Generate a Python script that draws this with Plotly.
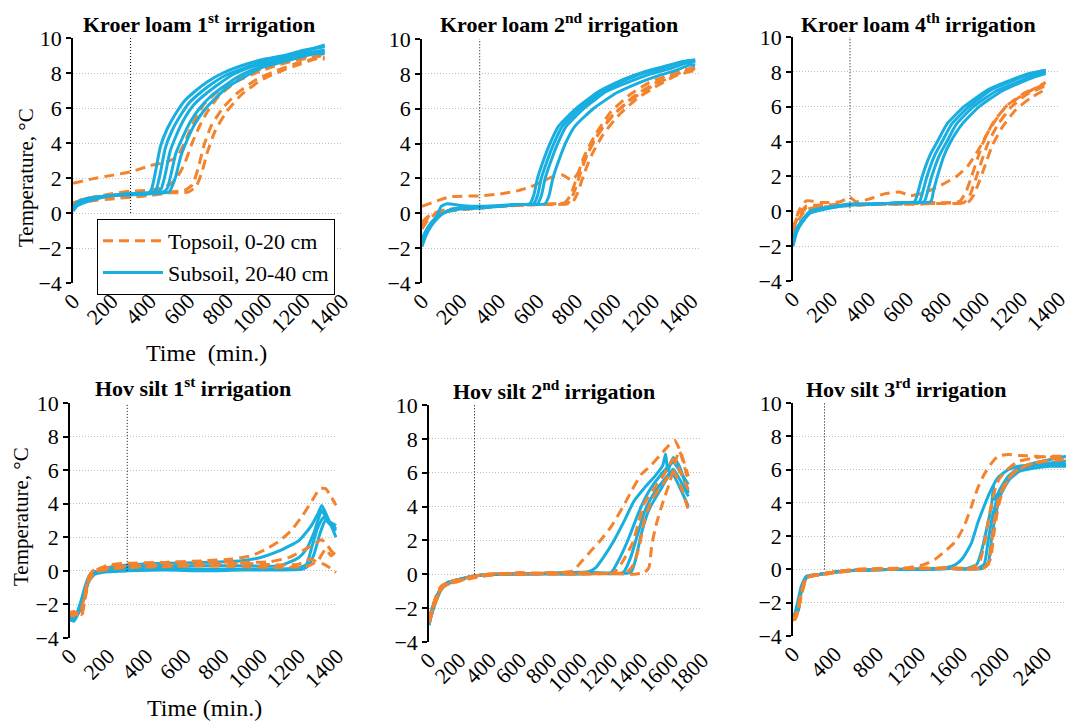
import plotly.graph_objects as go

# ---------------- data ----------------
IRRIGATION_END = 300  # min, dotted vertical marker

panel_titles = [
    "Kroer loam 1<sup>st</sup> irrigation",
    "Kroer loam 2<sup>nd</sup> irrigation",
    "Kroer loam 4<sup>th</sup> irrigation",
    "Hov silt 1<sup>st</sup> irrigation",
    "Hov silt 2<sup>nd</sup> irrigation",
    "Hov silt 3<sup>rd</sup> irrigation",
]
x_ranges = [(0, 1400), (0, 1450), (0, 1400), (0, 1400), (0, 1800), (0, 2600)]
x_dticks = [200, 200, 200, 200, 200, 400]
y_range = (-4, 10)
y_dtick = 2

# Kroer loam 1st irrigation
kroer1_topsoil = [
    ([0, 100, 200, 300, 400, 480, 540, 580, 620, 680, 760, 850, 950, 1050, 1150, 1250, 1310],
     [1.7, 1.95, 2.15, 2.35, 2.7, 2.9, 3.2, 4.0, 5.0, 6.2, 7.0, 7.6, 8.1, 8.5, 8.8, 9.0, 9.1]),
    ([0, 50, 100, 200, 300, 400, 450, 500, 540, 580, 620, 660, 700, 760, 850, 950, 1050, 1150, 1250, 1310],
     [0.5, 0.8, 0.9, 1.1, 1.25, 1.3, 1.4, 1.6, 2.0, 2.8, 4.0, 5.0, 5.8, 6.7, 7.5, 8.0, 8.4, 8.7, 8.9, 9.0]),
    ([0, 50, 100, 200, 300, 400, 500, 580, 620, 650, 680, 720, 780, 850, 950, 1050, 1150, 1250, 1310],
     [0.6, 0.7, 0.8, 0.9, 1.0, 1.1, 1.2, 1.3, 1.6, 2.5, 3.8, 5.0, 6.0, 6.8, 7.6, 8.1, 8.5, 8.8, 8.9]),
    ([0, 50, 100, 200, 300, 400, 500, 600, 640, 670, 700, 740, 800, 880, 980, 1080, 1180, 1260, 1310],
     [0.5, 0.6, 0.7, 0.8, 0.9, 1.0, 1.15, 1.2, 1.5, 2.3, 3.5, 4.7, 5.8, 6.8, 7.6, 8.1, 8.5, 8.8, 8.8]),
]
kroer1_subsoil = [
    ([0, 20, 60, 120, 200, 300, 390, 410, 430, 455, 490, 530, 580, 640, 700, 780, 900, 1000, 1100, 1200, 1310],
     [0.2, 0.5, 0.7, 0.85, 1.0, 1.05, 1.1, 1.4, 2.4, 3.8, 4.8, 5.6, 6.4, 7.0, 7.5, 8.0, 8.5, 8.8, 9.0, 9.3, 9.5]),
    ([0, 20, 60, 120, 200, 300, 415, 435, 455, 480, 515, 555, 605, 665, 725, 800, 920, 1020, 1120, 1220, 1310],
     [0.3, 0.5, 0.7, 0.9, 1.0, 1.1, 1.15, 1.4, 2.3, 3.7, 4.7, 5.5, 6.3, 6.9, 7.4, 7.9, 8.4, 8.8, 9.0, 9.3, 9.6]),
    ([0, 20, 60, 120, 200, 300, 440, 460, 480, 505, 540, 580, 630, 690, 750, 830, 940, 1040, 1140, 1240, 1310],
     [0.1, 0.4, 0.6, 0.8, 1.0, 1.1, 1.2, 1.4, 2.2, 3.5, 4.5, 5.4, 6.2, 6.8, 7.3, 7.9, 8.4, 8.7, 9.0, 9.2, 9.2]),
    ([0, 20, 60, 120, 200, 300, 470, 490, 510, 535, 570, 610, 660, 720, 780, 860, 960, 1060, 1160, 1250, 1310],
     [0.3, 0.6, 0.8, 0.9, 1.0, 1.1, 1.2, 1.4, 2.2, 3.4, 4.3, 5.2, 6.0, 6.7, 7.2, 7.8, 8.3, 8.7, 8.9, 9.2, 9.3]),
    ([0, 20, 60, 120, 200, 300, 500, 515, 535, 560, 595, 635, 685, 745, 805, 880, 980, 1080, 1180, 1260, 1310],
     [0.2, 0.5, 0.7, 0.9, 1.0, 1.05, 1.2, 1.5, 2.1, 3.2, 4.2, 5.1, 5.9, 6.6, 7.2, 7.7, 8.3, 8.6, 8.9, 9.1, 9.1]),
]

# Kroer loam 2nd irrigation
kroer2_topsoil = [
    ([0, 50, 100, 150, 300, 400, 500, 560, 620, 680, 730, 780, 810, 850, 900, 980, 1050, 1150, 1250, 1350, 1420],
     [0.4, 0.6, 0.8, 0.95, 1.0, 1.1, 1.3, 1.5, 1.8, 2.1, 2.2, 1.9, 2.3, 3.2, 4.3, 5.5, 6.2, 7.0, 7.6, 8.1, 8.3]),
    ([0, 30, 70, 120, 200, 300, 400, 500, 600, 700, 760, 790, 820, 860, 920, 1000, 1100, 1200, 1300, 1420],
     [-0.7, -0.3, 0.0, 0.15, 0.25, 0.3, 0.4, 0.5, 0.5, 0.55, 0.6, 1.2, 2.2, 3.4, 4.6, 5.7, 6.7, 7.4, 7.9, 8.3]),
    ([0, 30, 70, 120, 200, 300, 400, 500, 600, 700, 780, 810, 840, 880, 940, 1020, 1120, 1220, 1320, 1420],
     [-0.9, -0.4, -0.05, 0.1, 0.2, 0.3, 0.4, 0.45, 0.5, 0.5, 0.6, 1.2, 2.2, 3.3, 4.5, 5.6, 6.6, 7.3, 7.9, 8.2]),
    ([0, 30, 70, 120, 200, 300, 400, 500, 600, 700, 740, 770, 800, 840, 900, 980, 1080, 1180, 1300, 1420],
     [-0.5, -0.2, 0.05, 0.2, 0.3, 0.35, 0.4, 0.45, 0.5, 0.55, 0.6, 1.0, 1.9, 3.2, 4.5, 5.8, 6.8, 7.5, 8.0, 8.4]),
]
kroer2_subsoil = [
    ([0, 20, 50, 80, 100, 130, 200, 300, 400, 500, 560, 580, 600, 630, 665, 710, 800, 920, 1050, 1150, 1250, 1350, 1420],
     [-1.8, -1.2, -0.6, -0.1, 0.4, 0.55, 0.45, 0.4, 0.45, 0.5, 0.55, 1.0, 2.0, 3.0, 4.0, 5.0, 6.0, 7.0, 7.7, 8.1, 8.4, 8.7, 8.8]),
    ([0, 20, 50, 80, 110, 150, 200, 300, 400, 500, 580, 600, 620, 650, 685, 730, 820, 940, 1070, 1170, 1270, 1360, 1420],
     [-1.6, -1.1, -0.6, -0.2, 0.0, 0.2, 0.3, 0.35, 0.4, 0.5, 0.55, 1.0, 2.0, 3.0, 4.0, 5.0, 6.0, 7.0, 7.7, 8.1, 8.4, 8.7, 8.8]),
    ([0, 20, 50, 80, 110, 150, 200, 300, 400, 500, 600, 620, 640, 670, 705, 750, 840, 960, 1090, 1190, 1290, 1370, 1420],
     [-1.9, -1.3, -0.7, -0.3, 0.0, 0.15, 0.25, 0.3, 0.4, 0.5, 0.55, 1.0, 2.0, 3.0, 4.0, 5.0, 6.0, 7.0, 7.6, 8.0, 8.3, 8.6, 8.7]),
    ([0, 20, 50, 80, 110, 150, 200, 300, 400, 500, 640, 660, 680, 710, 745, 795, 890, 1010, 1130, 1230, 1320, 1390, 1420],
     [-1.5, -1.0, -0.5, -0.2, 0.0, 0.2, 0.3, 0.35, 0.4, 0.5, 0.55, 1.0, 2.0, 3.0, 4.0, 5.0, 6.0, 6.9, 7.5, 7.9, 8.2, 8.5, 8.5]),
]

# Kroer loam 4th irrigation
kroer4_topsoil = [
    ([0, 30, 70, 150, 250, 300, 330, 400, 480, 560, 620, 700, 780, 860, 920, 980, 1040, 1120, 1200, 1280, 1330],
     [-1.2, 0.0, 0.6, 0.5, 0.55, 0.8, 0.55, 0.7, 1.0, 1.1, 0.9, 1.1, 1.5, 2.0, 2.6, 3.6, 4.8, 6.0, 6.6, 7.1, 7.4]),
    ([0, 30, 70, 150, 250, 350, 450, 550, 650, 750, 850, 900, 930, 960, 990, 1030, 1080, 1150, 1230, 1330],
     [-1.0, -0.3, 0.2, 0.3, 0.35, 0.4, 0.4, 0.4, 0.45, 0.45, 0.5, 0.5, 0.9, 1.8, 2.8, 4.0, 5.0, 6.0, 6.7, 7.2]),
    ([0, 30, 70, 150, 250, 350, 450, 550, 650, 750, 850, 920, 950, 980, 1010, 1050, 1100, 1170, 1250, 1330],
     [-1.4, -0.5, 0.1, 0.25, 0.3, 0.35, 0.4, 0.4, 0.4, 0.45, 0.45, 0.5, 0.9, 1.7, 2.6, 3.8, 4.8, 5.8, 6.5, 7.0]),
    ([0, 30, 70, 150, 250, 350, 450, 550, 650, 750, 850, 880, 910, 940, 970, 1010, 1060, 1130, 1220, 1330],
     [-0.9, -0.2, 0.3, 0.35, 0.4, 0.4, 0.45, 0.45, 0.5, 0.5, 0.5, 0.6, 1.1, 2.0, 3.0, 4.2, 5.2, 6.1, 6.8, 7.3]),
]
kroer4_subsoil = [
    ([0, 20, 50, 90, 140, 200, 300, 400, 500, 600, 640, 660, 680, 720, 760, 810, 900, 1030, 1140, 1240, 1330],
     [-1.9, -1.0, -0.5, 0.0, 0.1, 0.2, 0.4, 0.4, 0.45, 0.5, 0.55, 1.2, 2.0, 3.2, 4.0, 5.0, 6.0, 7.0, 7.5, 7.9, 8.1]),
    ([0, 20, 50, 90, 140, 200, 300, 400, 500, 600, 665, 685, 705, 745, 785, 835, 925, 1050, 1160, 1250, 1330],
     [-1.8, -1.1, -0.6, -0.1, 0.1, 0.25, 0.4, 0.4, 0.45, 0.5, 0.55, 1.2, 2.0, 3.2, 4.0, 5.0, 6.0, 7.0, 7.5, 7.9, 8.1]),
    ([0, 20, 50, 90, 140, 200, 300, 400, 500, 600, 690, 710, 730, 770, 810, 860, 950, 1070, 1180, 1260, 1330],
     [-2.0, -1.2, -0.6, -0.1, 0.05, 0.2, 0.35, 0.4, 0.45, 0.5, 0.55, 1.2, 2.0, 3.2, 4.0, 5.0, 6.0, 6.9, 7.4, 7.8, 8.0]),
    ([0, 20, 50, 90, 140, 200, 300, 400, 500, 600, 725, 740, 760, 795, 830, 890, 980, 1100, 1200, 1270, 1330],
     [-1.7, -1.0, -0.5, 0.0, 0.15, 0.25, 0.4, 0.4, 0.45, 0.5, 0.55, 1.2, 2.0, 3.2, 4.0, 5.0, 6.0, 6.9, 7.4, 7.7, 7.9]),
]

# Hov silt 1st irrigation
hov1_topsoil = [
    ([0, 20, 40, 60, 80, 100, 130, 200, 300, 500, 700, 850, 950, 1030, 1100, 1160, 1220, 1270, 1310, 1340, 1370, 1395],
     [-2.5, -2.7, -2.4, -2.6, -1.5, -0.5, -0.1, 0.3, 0.4, 0.5, 0.6, 0.7, 0.9, 1.3, 1.8, 2.4, 3.3, 4.2, 4.9, 4.9, 4.4, 3.9]),
    ([0, 20, 40, 60, 80, 100, 130, 200, 300, 500, 700, 900, 1050, 1150, 1220, 1280, 1320, 1350, 1395],
     [-2.6, -2.4, -2.7, -2.5, -1.4, -0.4, 0.0, 0.35, 0.45, 0.5, 0.55, 0.5, 0.55, 0.8, 1.2, 1.6, 1.85, 1.5, 0.8]),
    ([0, 20, 40, 60, 80, 100, 130, 200, 300, 500, 700, 900, 1100, 1200, 1260, 1300, 1330, 1360, 1395],
     [-2.7, -2.5, -2.6, -2.3, -1.2, -0.3, 0.1, 0.2, 0.3, 0.35, 0.4, 0.45, 0.35, 0.4, 0.7, 0.5, 0.4, 0.2, -0.1]),
    ([0, 20, 40, 60, 80, 100, 130, 200, 300, 500, 700, 900, 1100, 1250, 1300, 1340, 1370, 1395],
     [-2.4, -2.6, -2.5, -2.7, -1.6, -0.6, -0.1, 0.1, 0.2, 0.25, 0.3, 0.25, 0.2, 0.3, 0.6, 1.3, 0.9, 1.2]),
]
hov1_subsoil = [
    ([0, 20, 40, 60, 80, 100, 130, 200, 300, 500, 700, 900, 1000, 1100, 1200, 1260, 1300, 1320, 1350, 1395],
     [-2.9, -3.0, -2.6, -2.0, -1.2, -0.5, -0.1, 0.2, 0.35, 0.45, 0.5, 0.6, 0.8, 1.2, 1.8, 2.6, 3.4, 3.9, 3.2, 2.0]),
    ([0, 20, 40, 60, 80, 100, 130, 200, 300, 500, 700, 900, 1100, 1200, 1240, 1280, 1320, 1350, 1395],
     [-2.8, -2.9, -2.5, -1.8, -1.0, -0.4, -0.1, 0.15, 0.25, 0.3, 0.3, 0.3, 0.3, 0.8, 1.3, 2.3, 3.6, 3.0, 2.5]),
    ([0, 20, 40, 60, 80, 100, 130, 200, 300, 500, 700, 900, 1100, 1200, 1240, 1270, 1300, 1330, 1360, 1395],
     [-3.0, -2.8, -2.4, -1.7, -0.9, -0.3, -0.05, 0.05, 0.1, 0.15, 0.1, 0.1, 0.1, 0.2, 0.4, 1.5, 2.6, 3.2, 2.8, 2.4]),
    ([0, 20, 40, 60, 80, 100, 130, 200, 300, 500, 700, 900, 1100, 1220, 1250, 1280, 1310, 1340, 1395],
     [-2.7, -2.9, -2.6, -2.1, -1.3, -0.6, -0.2, -0.05, 0.0, 0.05, 0.0, 0.05, 0.05, 0.1, 0.3, 1.0, 2.2, 3.0, 2.7]),
]

# Hov silt 2nd irrigation
hov2_topsoil = [
    ([0, 20, 50, 80, 120, 200, 300, 450, 600, 800, 950, 1000, 1060, 1130, 1200, 1280, 1340, 1400, 1460, 1520, 1580, 1620, 1660, 1710],
     [-2.8, -2.3, -1.4, -0.8, -0.6, -0.4, -0.2, 0.0, 0.1, 0.05, 0.2, 0.7, 1.3, 2.0, 2.8, 4.0, 5.0, 5.9, 6.4, 7.0, 7.6, 7.9, 7.2, 5.8]),
    ([0, 20, 50, 80, 120, 200, 300, 450, 600, 800, 1000, 1220, 1280, 1340, 1380, 1420, 1480, 1550, 1610, 1660, 1710],
     [-2.9, -2.1, -1.3, -0.9, -0.5, -0.3, -0.1, 0.05, 0.0, 0.1, 0.05, 0.1, 0.8, 1.8, 3.0, 4.2, 5.0, 5.9, 6.8, 6.0, 5.0]),
    ([0, 20, 50, 80, 120, 200, 300, 450, 600, 800, 1000, 1300, 1350, 1390, 1420, 1470, 1540, 1610, 1660, 1710],
     [-2.7, -2.0, -1.2, -0.7, -0.5, -0.35, -0.15, 0.0, 0.05, 0.0, 0.1, 0.1, 0.6, 1.8, 3.2, 4.4, 5.3, 6.1, 5.2, 3.8]),
    ([0, 20, 50, 80, 120, 200, 300, 450, 600, 800, 1000, 1200, 1350, 1420, 1450, 1470, 1500, 1540, 1590, 1650, 1680, 1710],
     [-2.6, -2.2, -1.5, -0.8, -0.6, -0.4, -0.1, 0.05, 0.0, 0.05, 0.0, 0.05, 0.0, 0.1, 0.4, 1.8, 3.0, 4.2, 5.5, 7.3, 6.5, 5.5]),
]
hov2_subsoil = [
    ([0, 20, 50, 80, 120, 200, 300, 450, 700, 900, 1050, 1100, 1150, 1220, 1290, 1350, 1420, 1490, 1540, 1560, 1575, 1610, 1650, 1710],
     [-3.0, -2.2, -1.5, -0.9, -0.5, -0.3, -0.1, 0.0, 0.05, 0.1, 0.15, 0.4, 1.0, 2.0, 3.2, 4.3, 5.1, 5.8, 6.4, 7.1, 6.1, 6.9, 6.4, 4.8]),
    ([0, 20, 50, 80, 120, 200, 300, 450, 700, 900, 1100, 1200, 1260, 1320, 1380, 1450, 1530, 1610, 1660, 1710],
     [-2.9, -2.1, -1.4, -0.8, -0.5, -0.3, -0.1, 0.0, 0.05, 0.05, 0.1, 0.1, 1.0, 2.2, 3.6, 4.9, 5.9, 6.6, 6.0, 5.3]),
    ([0, 20, 50, 80, 120, 200, 300, 450, 700, 900, 1100, 1280, 1330, 1380, 1430, 1500, 1570, 1610, 1660, 1710],
     [-2.8, -2.0, -1.3, -0.8, -0.5, -0.3, -0.1, 0.0, 0.0, 0.05, 0.05, 0.1, 1.0, 2.5, 3.9, 5.0, 5.8, 6.2, 5.5, 4.6]),
    ([0, 20, 50, 80, 120, 200, 300, 450, 700, 900, 1100, 1330, 1360, 1400, 1450, 1520, 1600, 1650, 1710],
     [-3.0, -2.3, -1.5, -0.9, -0.6, -0.3, -0.1, 0.0, 0.05, 0.0, 0.05, 0.1, 0.8, 2.4, 3.8, 4.9, 6.0, 5.2, 4.0]),
]

# Hov silt 3rd irrigation
hov3_topsoil = [
    ([0, 20, 50, 80, 130, 250, 400, 600, 900, 1100, 1250, 1350, 1450, 1550, 1630, 1700, 1760, 1820, 1880, 1950, 2050, 2150, 2300, 2450, 2600],
     [-2.9, -3.0, -2.3, -1.5, -0.5, -0.35, -0.2, -0.05, 0.05, 0.1, 0.3, 0.6, 1.1, 1.7, 2.6, 3.8, 4.9, 5.7, 6.3, 6.8, 6.9, 6.85, 6.8, 6.75, 6.7]),
    ([0, 20, 50, 80, 130, 250, 400, 600, 900, 1200, 1500, 1700, 1780, 1830, 1870, 1910, 1960, 2040, 2150, 2300, 2450, 2600],
     [-3.1, -2.8, -2.2, -1.3, -0.45, -0.3, -0.15, 0.0, 0.05, 0.05, 0.05, 0.05, 0.5, 1.8, 3.3, 4.5, 5.4, 6.0, 6.5, 6.7, 6.8, 6.8]),
    ([0, 20, 50, 80, 130, 250, 400, 600, 900, 1200, 1500, 1800, 1860, 1890, 1920, 1960, 2030, 2120, 2250, 2450, 2600],
     [-2.8, -3.0, -2.5, -1.6, -0.5, -0.3, -0.2, -0.05, 0.0, 0.1, 0.05, 0.05, 0.3, 1.5, 3.0, 4.3, 5.3, 5.9, 6.3, 6.6, 6.9]),
    ([0, 20, 50, 80, 130, 250, 400, 600, 900, 1200, 1500, 1820, 1880, 1910, 1950, 2000, 2080, 2200, 2400, 2600],
     [-3.0, -2.9, -2.4, -1.4, -0.5, -0.3, -0.15, 0.0, 0.05, 0.05, 0.1, 0.1, 0.6, 2.0, 3.6, 4.8, 5.7, 6.2, 6.5, 6.6]),
]
hov3_subsoil = [
    ([0, 20, 50, 80, 130, 250, 400, 600, 900, 1200, 1450, 1550, 1620, 1700, 1760, 1820, 1880, 1950, 2050, 2150, 2300, 2450, 2600],
     [-3.0, -2.7, -2.4, -1.2, -0.45, -0.3, -0.15, -0.05, 0.0, 0.02, 0.1, 0.3, 0.7, 1.6, 2.8, 3.8, 4.7, 5.5, 6.0, 6.2, 6.3, 6.4, 6.5]),
    ([0, 20, 50, 80, 130, 250, 400, 600, 900, 1200, 1500, 1650, 1750, 1800, 1850, 1890, 1910, 1920, 1970, 2050, 2150, 2300, 2450, 2600],
     [-2.9, -2.6, -1.8, -1.0, -0.4, -0.3, -0.15, -0.05, 0.0, 0.0, 0.05, 0.05, 0.3, 1.2, 2.6, 3.8, 5.0, 4.2, 4.8, 5.6, 6.1, 6.4, 6.6, 6.8]),
    ([0, 20, 50, 80, 130, 250, 400, 600, 900, 1200, 1500, 1750, 1820, 1860, 1900, 1950, 2020, 2120, 2250, 2400, 2600],
     [-2.8, -2.9, -2.3, -1.1, -0.45, -0.3, -0.15, -0.05, 0.0, 0.02, 0.05, 0.05, 0.3, 1.8, 3.2, 4.3, 5.2, 5.9, 6.2, 6.3, 6.3]),
    ([0, 20, 50, 80, 130, 250, 400, 600, 900, 1200, 1500, 1800, 1860, 1890, 1930, 1980, 2060, 2160, 2300, 2450, 2600],
     [-3.0, -2.8, -2.5, -1.3, -0.5, -0.3, -0.15, -0.05, 0.0, 0.0, 0.05, 0.05, 0.4, 1.8, 3.3, 4.5, 5.4, 5.9, 6.1, 6.2, 6.2]),
]

topsoil_sets = [kroer1_topsoil, kroer2_topsoil, kroer4_topsoil, hov1_topsoil, hov2_topsoil, hov3_topsoil]
subsoil_sets = [kroer1_subsoil, kroer2_subsoil, kroer4_subsoil, hov1_subsoil, hov2_subsoil, hov3_subsoil]

# ---------------- styling / layout ----------------
W, H = 1067, 721
FONT = "Liberation Serif"
ORANGE = "#F4832E"
BLUE = "#19AEE0"
TICK_SIZE = 22
TITLE_SIZE = 22

# plot-area pixel boxes: (left, right, top[y=10], bottom[y=-4])
boxes = [
    (73, 342, 38, 283),
    (422, 701, 39, 283),
    (793, 1059, 37, 281),
    (70, 337, 403, 638),
    (429, 702, 405, 642),
    (793, 1066, 403, 636),
]
title_pos = [(199, 23), (559, 23), (918, 23), (193, 387), (554, 390), (906, 388)]

fig = go.Figure()

for i in range(6):
    n = i + 1
    xa = "x" if n == 1 else f"x{n}"
    ya = "y" if n == 1 else f"y{n}"
    order = [("top", topsoil_sets[i]), ("sub", subsoil_sets[i])]
    if i >= 3:
        order = [("sub", subsoil_sets[i]), ("top", topsoil_sets[i])]
    for kind, curves in order:
        for k, (t, T) in enumerate(curves):
            is_top = kind == "top"
            fig.add_trace(go.Scatter(
                x=t, y=T, xaxis=xa, yaxis=ya, mode="lines",
                line=dict(color=ORANGE if is_top else BLUE, width=3,
                          dash="10px,6px" if is_top else "solid",
                          shape="spline", smoothing=0.5),
                name="Topsoil, 0-20 cm" if is_top else "Subsoil, 20-40 cm",
                legendgroup=kind,
                showlegend=(i == 0 and k == 0),
                legendrank=1 if is_top else 2,
                hoverinfo="skip",
            ))

layout = dict(
    width=W, height=H,
    margin=dict(l=0, r=0, t=0, b=0, pad=0, autoexpand=False),
    paper_bgcolor="white", plot_bgcolor="white",
    font=dict(family=FONT, size=20, color="black"),
    showlegend=True,
    legend=dict(
        x=97 / W, y=1 - 219 / H, xanchor="left", yanchor="top",
        bordercolor="black", borderwidth=1, bgcolor="white",
        font=dict(family=FONT, size=22, color="black"),
        tracegroupgap=0, traceorder="normal", itemwidth=60,
    ),
)

annotations = []
shapes = []
for i in range(6):
    n = i + 1
    L, R, Tp, Bt = boxes[i]
    xd = [L / W, R / W]
    yd = [1 - Bt / H, 1 - Tp / H]
    zero_pos = yd[0] + (0 - y_range[0]) / (y_range[1] - y_range[0]) * (yd[1] - yd[0])
    xkey = "xaxis" if n == 1 else f"xaxis{n}"
    ykey = "yaxis" if n == 1 else f"yaxis{n}"
    ya = "y" if n == 1 else f"y{n}"
    xa = "x" if n == 1 else f"x{n}"
    layout[xkey] = dict(
        domain=xd, range=list(x_ranges[i]), dtick=x_dticks[i], tick0=0,
        anchor=ya, showline=False, ticks="", showgrid=False, zeroline=False,
        tickangle=-45, tickfont=dict(family=FONT, size=TICK_SIZE, color="black"),
        ticklabeloverflow="allow", automargin=False, fixedrange=True,
    )
    layout[ykey] = dict(
        domain=yd, range=list(y_range), dtick=y_dtick, tick0=0,
        anchor=xa, showline=True, linecolor="black", linewidth=1.5,
        ticks="outside", ticklen=5, tickcolor="black", tickwidth=1.5,
        showgrid=True, gridcolor="#BDBDBD", griddash="1px,2px", gridwidth=1,
        zeroline=False, tickfont=dict(family=FONT, size=TICK_SIZE, color="black"),
        ticklabelstandoff=0, ticklabeloverflow="allow", automargin=False, fixedrange=True,
    )
    # axis line at T = 0 with downward tick marks
    ov = f"xaxis{n + 6}"
    layout[ov] = dict(
        overlaying=xa, range=list(x_ranges[i]), dtick=x_dticks[i], tick0=0,
        anchor="free", position=zero_pos, side="bottom",
        showline=True, linecolor="black", linewidth=1.5,
        ticks="outside", ticklen=6, tickcolor="black", tickwidth=1.5,
        showticklabels=False, showgrid=False, zeroline=False,
        automargin=False, fixedrange=True,
    )
    # dotted marker line
    shapes.append(dict(type="line", xref=xa, yref=ya,
                       x0=IRRIGATION_END, x1=IRRIGATION_END, y0=0, y1=y_range[1],
                       line=dict(color="black", width=1, dash="1px,2px"), layer="above"))
    tx, ty = title_pos[i]
    annotations.append(dict(text=f"<b>{panel_titles[i]}</b>", x=tx / W, y=1 - ty / H,
                            xref="paper", yref="paper", showarrow=False,
                            xanchor="center", yanchor="middle",
                            font=dict(family=FONT, size=TITLE_SIZE, color="black")))

annotations += [
    dict(text="Temperature, °C", x=26 / W, y=1 - 178 / H, xref="paper", yref="paper",
         showarrow=False, textangle=-90, xanchor="center", yanchor="middle",
         font=dict(family=FONT, size=21, color="black")),
    dict(text="Temperature, °C", x=21 / W, y=1 - 517 / H, xref="paper", yref="paper",
         showarrow=False, textangle=-90, xanchor="center", yanchor="middle",
         font=dict(family=FONT, size=21, color="black")),
    dict(text="Time  (min.)", x=206 / W, y=1 - 353 / H, xref="paper", yref="paper",
         showarrow=False, xanchor="center", yanchor="middle",
         font=dict(family=FONT, size=24, color="black")),
    dict(text="Time (min.)", x=204 / W, y=1 - 708 / H, xref="paper", yref="paper",
         showarrow=False, xanchor="center", yanchor="middle",
         font=dict(family=FONT, size=24, color="black")),
]
layout["annotations"] = annotations
layout["shapes"] = shapes

fig.update_layout(**layout)
fig.write_html("out.html",
               config={"displayModeBar": False},
               post_script="document.body.style.margin='0px';document.body.style.padding='0px';")
